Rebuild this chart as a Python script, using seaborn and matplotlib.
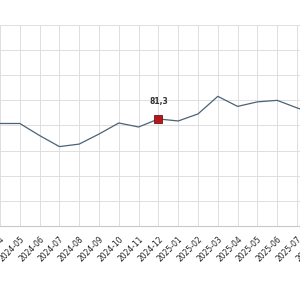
"""Monthly index line, cropped view with highlighted 2024-12 point."""

import matplotlib
matplotlib.use("Agg")
import matplotlib.pyplot as plt
import pandas as pd
import seaborn as sns

months = [
    "2024-03", "2024-04", "2024-05", "2024-06", "2024-07", "2024-08",
    "2024-09", "2024-10", "2024-11", "2024-12", "2025-01", "2025-02",
    "2025-03", "2025-04", "2025-05", "2025-06", "2025-07", "2025-08",
]
values = [
    80.4, 80.4, 80.4, 78.0, 75.8, 76.3,
    78.3, 80.5, 79.7, 81.3, 80.9, 82.3,
    85.8, 83.8, 84.7, 85.0, 83.5, 82.2,
]
highlight_month = "2024-12"
highlight_label = "81,3"

df = pd.DataFrame({"month": months, "value": values})
df["pos"] = range(len(df))

sns.set_style("white")
plt.rcParams["font.family"] = ["DejaVu Sans"]

fig = plt.figure(figsize=(3, 3), dpi=100)
# plot area is wider than the picture: the view is a crop of a longer series
ax = fig.add_axes([-0.066, 0.2467, 1.122, 0.67])

sns.lineplot(data=df, x="pos", y="value", ax=ax, color="#4b6277",
             linewidth=0.9)

hi = df[df["month"] == highlight_month].iloc[0]
ax.scatter([hi["pos"]], [hi["value"]], marker="s", s=40, color="#b3191c",
           edgecolor="#7a0f10", linewidth=0.6, zorder=5)
ax.annotate(highlight_label, (hi["pos"], hi["value"]), xytext=(0, 9),
            textcoords="offset points", ha="center", va="bottom",
            fontsize=5.5, fontweight="bold", color="#333333")

ax.set_xlim(0, len(df) - 1)
ax.set_ylim(60, 100)
ax.set_yticks(range(60, 101, 5))
ax.set_xticks(df["pos"])
ax.set_xticklabels(df["month"], rotation=45, ha="right",
                   rotation_mode="anchor", fontsize=5.5, color="#222222")
ax.tick_params(axis="x", length=0, pad=6)
ax.tick_params(axis="y", length=0, labelleft=False)
ax.grid(True, color="#dedede", linewidth=0.7)
ax.set_axisbelow(True)
ax.set_xlabel("")
ax.set_ylabel("")
for side in ["top", "left", "right"]:
    ax.spines[side].set_visible(False)
ax.spines["bottom"].set_color("#c8c8c8")
ax.spines["bottom"].set_linewidth(0.8)

fig.savefig("out.png", dpi=100)
plt.close(fig)
